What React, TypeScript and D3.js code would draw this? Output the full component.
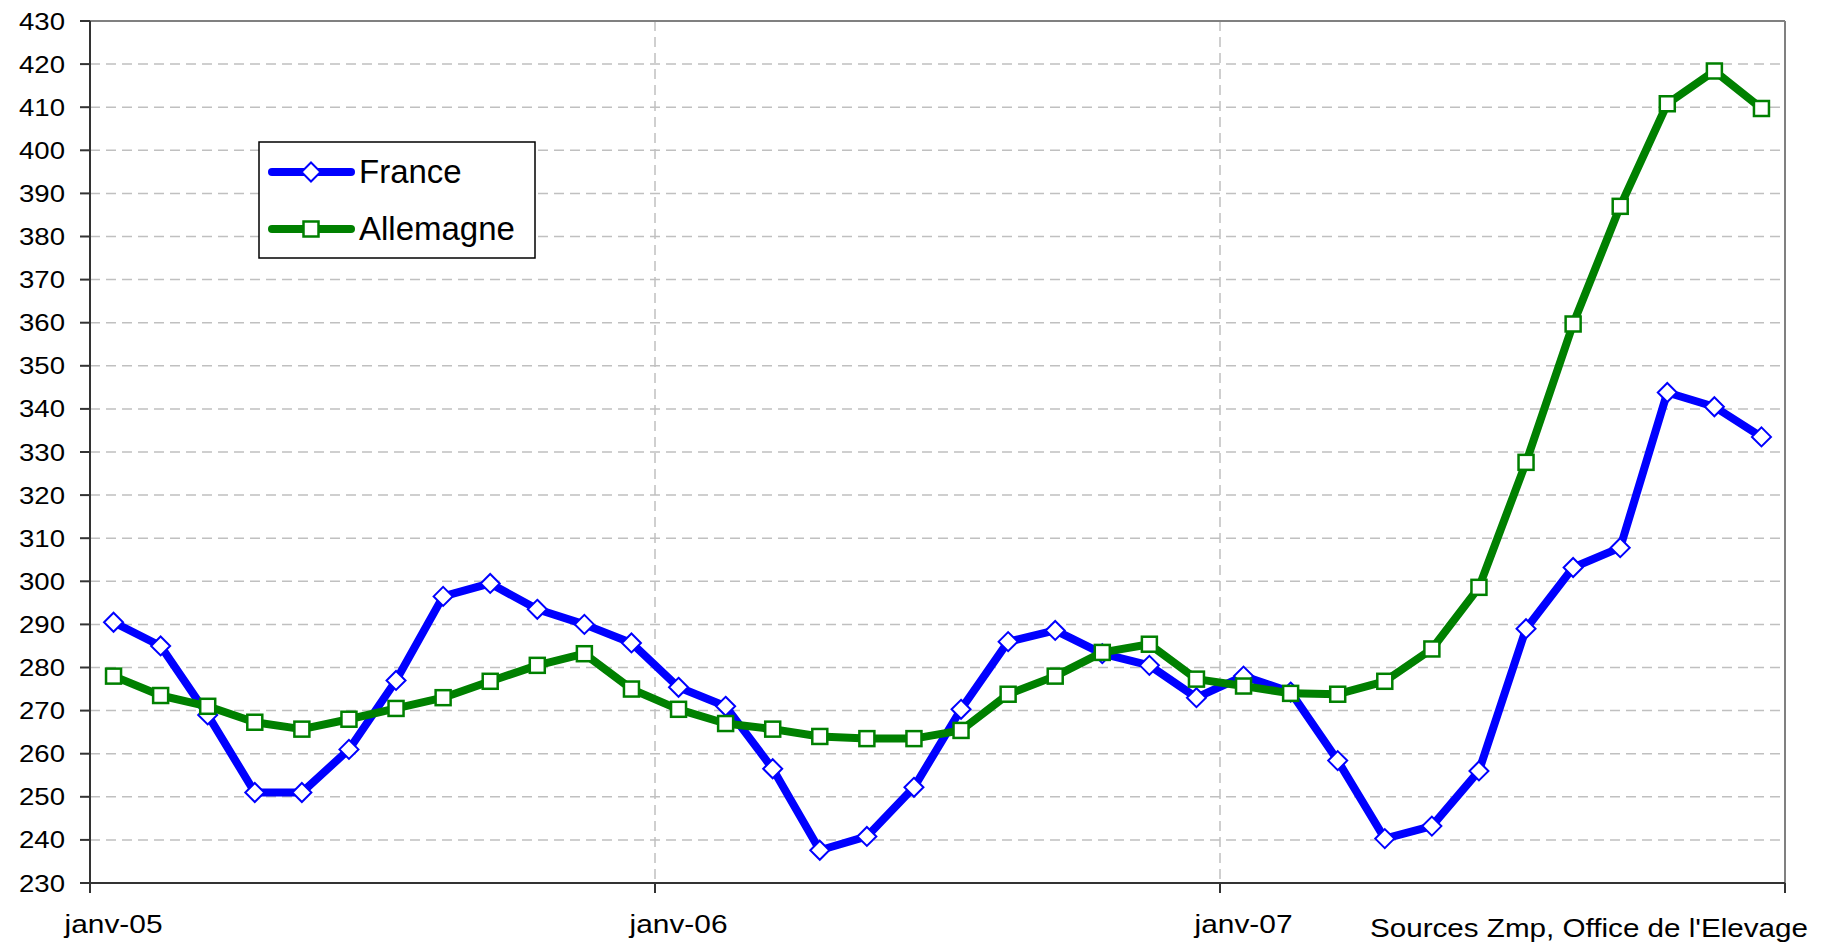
import React from "react";
import * as d3 from "d3";

const months: string[] = [
  "2005-01","2005-02","2005-03","2005-04","2005-05","2005-06","2005-07","2005-08","2005-09","2005-10","2005-11","2005-12",
  "2006-01","2006-02","2006-03","2006-04","2006-05","2006-06","2006-07","2006-08","2006-09","2006-10","2006-11","2006-12",
  "2007-01","2007-02","2007-03","2007-04","2007-05","2007-06","2007-07","2007-08","2007-09","2007-10","2007-11","2007-12",
];

const france: number[] = [
  290.5, 285, 269, 251, 251, 261, 277, 296.5, 299.5, 293.5, 290, 285.7,
  275.4, 271, 256.5, 237.6, 240.8, 252.2, 270.3, 286, 288.6, 283.2, 280.5, 273,
  278, 274.3, 258.4, 240.3, 243.2, 256, 289, 303.2, 307.8, 343.8, 340.5, 333.5,
];

const allemagne: number[] = [
  278, 273.5, 271, 267.3, 265.7, 268, 270.5, 273, 276.8, 280.5, 283.2, 275,
  270.3, 267, 265.7, 264, 263.5, 263.5, 265.4, 273.8, 278, 283.5, 285.4, 277.3,
  275.7, 274, 273.8, 276.8, 284.3, 298.6, 327.6, 359.7, 387, 410.8, 418.4, 409.7,
];

const yTicks: number[] = d3.range(230, 431, 10);
const xTickMonths: number[] = [0, 12, 24, 36];
const xLabels: { month: number; label: string }[] = [
  { month: 0, label: "janv-05" },
  { month: 12, label: "janv-06" },
  { month: 24, label: "janv-07" },
];
const seriesNames: string[] = ["France", "Allemagne"];
const sourceText = "Sources Zmp, Office de l'Elevage";

const W = 1827;
const H = 947;
const L = 90, R = 1785, T = 21, B = 883;
const FONT = "'Liberation Sans', Arial, sans-serif";

export default function App() {
  const x = d3.scaleLinear().domain([0, months.length]).range([L, R]);
  const y = d3.scaleLinear().domain([230, 430]).range([B, T]);
  const line = d3
    .line<number>()
    .x((_, i) => x(i + 0.5))
    .y((d) => y(d));

  const blue = "#0000ff";
  const green = "#008000";

  const diamond = (cx: number, cy: number, key: string | number) => (
    <path
      key={key}
      d={`M${cx},${cy - 9.5}L${cx + 9.5},${cy}L${cx},${cy + 9.5}L${cx - 9.5},${cy}Z`}
      fill="#fff"
      stroke={blue}
      strokeWidth={2}
    />
  );
  const square = (cx: number, cy: number, key: string | number) => (
    <rect
      key={key}
      x={cx - 7.5}
      y={cy - 7.5}
      width={15}
      height={15}
      fill="#fff"
      stroke={green}
      strokeWidth={2.5}
    />
  );

  return (
    <svg
      width={W}
      height={H}
      style={{ position: "absolute", left: 0, top: 0, background: "#fff" }}
      fontFamily={FONT}
    >
      {yTicks.slice(1, -1).map((t) => (
        <line
          key={"g" + t}
          x1={L}
          x2={R}
          y1={y(t)}
          y2={y(t)}
          stroke="#c0c0c0"
          strokeWidth={1.5}
          strokeDasharray="10,6"
        />
      ))}
      {xTickMonths.slice(1, -1).map((m) => (
        <line
          key={"v" + m}
          x1={x(m)}
          x2={x(m)}
          y1={T}
          y2={B}
          stroke="#c0c0c0"
          strokeWidth={1.5}
          strokeDasharray="10,6"
        />
      ))}
      <line x1={L} x2={R} y1={T} y2={T} stroke="#808080" strokeWidth={2} />
      <line x1={R} x2={R} y1={T} y2={B} stroke="#808080" strokeWidth={2} />
      <line x1={L} x2={L} y1={T} y2={B + 10} stroke="#333" strokeWidth={2} />
      <line x1={L - 10} x2={R} y1={B} y2={B} stroke="#333" strokeWidth={2} />
      {yTicks.map((t) => (
        <g key={"yt" + t}>
          <line x1={L - 10} x2={L} y1={y(t)} y2={y(t)} stroke="#333" strokeWidth={2} />
          <text
            x={65}
            y={y(t) + 8.5}
            textAnchor="end"
            fontSize={24}
            textLength={46}
            lengthAdjust="spacingAndGlyphs"
            fill="#000"
          >
            {t}
          </text>
        </g>
      ))}
      {xTickMonths.map((m) => (
        <line key={"xt" + m} x1={x(m)} x2={x(m)} y1={B} y2={B + 10} stroke="#333" strokeWidth={2} />
      ))}
      {xLabels.map((l) => (
        <text
          key={l.label}
          x={x(l.month + 0.5)}
          y={933}
          textAnchor="middle"
          fontSize={26}
          textLength={98}
          lengthAdjust="spacingAndGlyphs"
          fill="#000"
        >
          {l.label}
        </text>
      ))}
      <text
        x={1370}
        y={937}
        fontSize={26}
        textLength={438}
        lengthAdjust="spacingAndGlyphs"
        fill="#000"
      >
        {sourceText}
      </text>

      <path d={line(france) || ""} fill="none" stroke={blue} strokeWidth={8} strokeLinejoin="round" />
      {france.map((v, i) => diamond(x(i + 0.5), y(v), "f" + i))}
      <path d={line(allemagne) || ""} fill="none" stroke={green} strokeWidth={8} strokeLinejoin="round" />
      {allemagne.map((v, i) => square(x(i + 0.5), y(v), "a" + i))}

      <rect x={259} y={142} width={276} height={116} fill="#fff" stroke="#000" strokeWidth={1.5} />
      <line x1={272} x2={351} y1={172} y2={172} stroke={blue} strokeWidth={8} strokeLinecap="round" />
      {diamond(311, 172, "ld")}
      <text x={359} y={183} fontSize={33} fill="#000">{seriesNames[0]}</text>
      <line x1={272} x2={351} y1={229} y2={229} stroke={green} strokeWidth={8} strokeLinecap="round" />
      {square(311, 229, "ls")}
      <text x={359} y={240} fontSize={33} fill="#000">{seriesNames[1]}</text>
    </svg>
  );
}
